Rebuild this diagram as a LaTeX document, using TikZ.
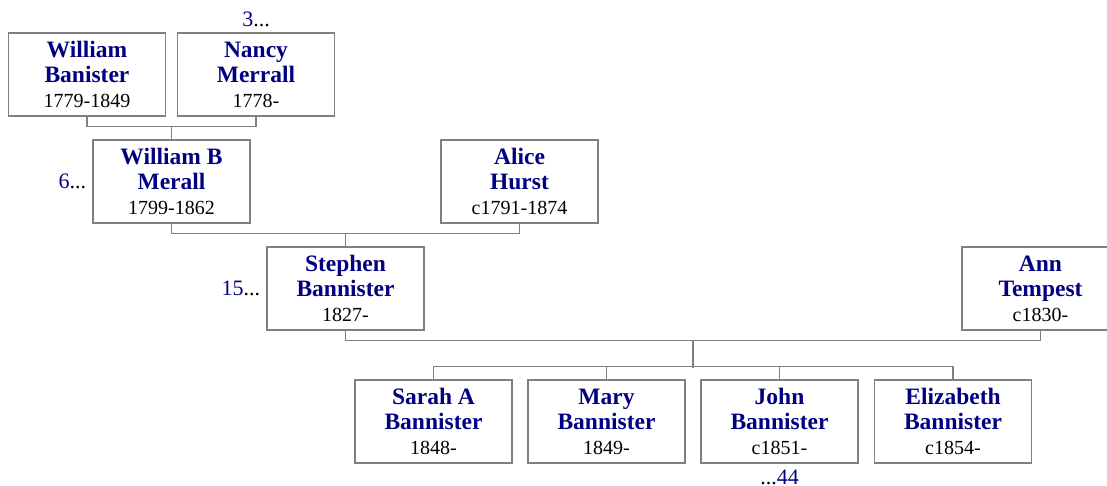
\documentclass[tikz,border=0pt]{standalone}
\usepackage{fontspec}
\setmainfont{Liberation Serif}
\usetikzlibrary{positioning,calc}
\definecolor{navyname}{RGB}{0,0,128}
\definecolor{linegray}{RGB}{128,128,128}
\newcommand\pname[1]{{\fontsize{23.5}{25}\selectfont\bfseries\color{navyname}#1}}
\newcommand\pref[1]{\textcolor{navyname}{#1}}
\tikzset{
  person/.style={draw=linegray, line width=1.3pt, minimum width=157pt,
    minimum height=83pt, inner sep=0pt, align=center,
    font=\fontsize{20}{25}\selectfont},
  link/.style={draw=linegray, line width=1.3pt},
  more/.style={inner sep=0pt, font=\fontsize{22}{24}\selectfont}
}
\begin{document}
\begin{tikzpicture}[x=1pt,y=-1pt]
  \path[use as bounding box, clip] (0,0) rectangle (1107,486);
  \node[person] (wb) at (87,74.5) {\pname{William}\\\pname{Banister}\\1779-1849};
  \node[person] (nm) at (256,74.5) {\pname{Nancy}\\\pname{Merrall}\\1778-};
  \node[person] (wbm) at (171.5,181.5) {\pname{William B}\\\pname{Merall}\\1799-1862};
  \node[person] (ah) at (519.5,181.5) {\pname{Alice}\\\pname{Hurst}\\c1791-1874};
  \node[person] (sb) at (345.5,288.5) {\pname{Stephen}\\\pname{Bannister}\\1827-};
  \node[person] (at) at (1040.5,288.5) {\pname{Ann}\\\pname{Tempest}\\c1830-};
  \node[person] (sa) at (433.5,421.5) {\pname{Sarah A}\\\pname{Bannister}\\1848-};
  \node[person] (mb) at (606.5,421.5) {\pname{Mary}\\\pname{Bannister}\\1849-};
  \node[person] (jb) at (779.5,421.5) {\pname{John}\\\pname{Bannister}\\c1851-};
  \node[person] (eb) at (953,421.5) {\pname{Elizabeth}\\\pname{Bannister}\\c1854-};
  % more generations
  \node[more, above=5pt of nm] (nmup) {\pref{3}...};
  \node[more, left=6pt of wbm] (wbmup) {\pref{6}...};
  \node[more, left=6pt of sb] (sbup) {\pref{15}...};
  \node[more, below=6pt of jb] (jbdown) {...\pref{44}};
  % couples and children
  \draw[link] (wb.south) -- ++(0,10) -| (nm.south);
  \coordinate (c1) at ($(wb.south)!.5!(nm.south)+(0,10)$);
  \draw[link] (c1) -- (wbm.north);
  \draw[link] (wbm.south) -- ++(0,10) -| (ah.south);
  \coordinate (c2) at ($(wbm.south)!.5!(ah.south)+(0,10)$);
  \draw[link] (c2) -- (sb.north);
  \draw[link] (sb.south) -- ++(0,10) -| (at.south);
  \coordinate (c3) at ($(sb.south)!.5!(at.south)+(0,10)$);
  \coordinate (kids) at ($(c3)+(0,27)$);
  \draw[link] (c3) -- (kids);
  \draw[link] (sa.north) -- ++(0,-13) -| (eb.north);
  \foreach \k in {mb,jb}
    \draw[link] (\k.north) -- ++(0,-13);
\end{tikzpicture}
\end{document}
